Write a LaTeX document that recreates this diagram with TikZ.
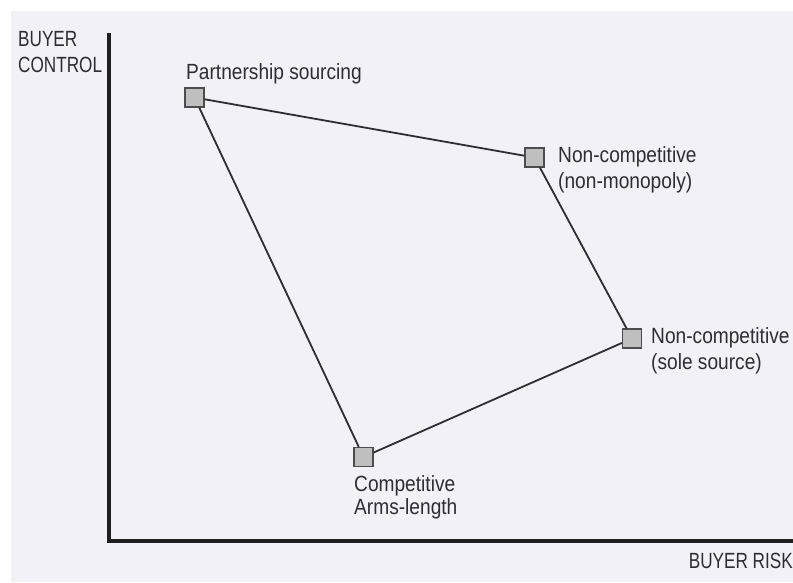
\documentclass[tikz,border=0pt]{standalone}
\usepackage{fontspec}
\setmainfont[FakeStretch=0.87]{Liberation Sans}
\newfontfamily\axisfont[FakeStretch=0.78]{Liberation Sans}
\definecolor{paper}{RGB}{242,241,246}
\definecolor{ink}{RGB}{45,45,50}
\begin{document}
\begin{tikzpicture}[x=1pt,y=-1pt,
  lbl/.style={inner sep=0pt, align=left, text=ink,
    font=\fontsize{22}{26}\selectfont},
  axislbl/.style={lbl, font=\axisfont\fontsize{22}{26}\selectfont},
  marker/.style={draw=black!70, fill=gray!50!white, line width=1.2pt,
    minimum size=19pt, inner sep=0pt},
  edge/.style={draw=ink, line width=1.8pt},
  axis/.style={draw=black!88, line width=4.5pt, line join=miter}]
  % canvas
  \useasboundingbox (0,0) rectangle (793,582);
  \fill[white] (0,0) rectangle (793,582);
  \fill[paper] (11,11) rectangle (793,582);

  % axes
  \coordinate (ytop) at (109,33);
  \coordinate (orig) at (109,541);
  \coordinate (xend) at (793,541);
  \draw[axis] (ytop) -- (orig) -- (xend);
  \node[axislbl, anchor=base west] (ylab1) at (18,46) {BUYER};
  \node[axislbl, anchor=base west] (ylab2) at (18,72) {CONTROL};
  \node[axislbl, anchor=base east] (xlab) at (793,568) {BUYER RISK};

  % sourcing positions
  \node[marker] (ps) at (194.5,97.5) {};
  \node[marker] (nm) at (534.5,157.5) {};
  \node[marker] (ss) at (632,338.5) {};
  \node[marker] (ca) at (363.5,457) {};

  \draw[edge] (ps) -- (nm) -- (ss) -- (ca) -- (ps);

  % labels
  \node[lbl, anchor=base west] (psl) at (186,79) {Partnership sourcing};
  \node[lbl, anchor=base west] (nml1) at (558,162) {Non-competitive};
  \node[lbl, anchor=base west] (nml2) at (558,188) {(non-monopoly)};
  \node[lbl, anchor=base west] (ssl1) at (651,343) {Non-competitive};
  \node[lbl, anchor=base west] (ssl2) at (651,369) {(sole source)};
  \node[lbl, anchor=base west] (cal1) at (354,491) {Competitive};
  \node[lbl, anchor=base west] (cal2) at (354,514) {Arms-length};
\end{tikzpicture}
\end{document}
